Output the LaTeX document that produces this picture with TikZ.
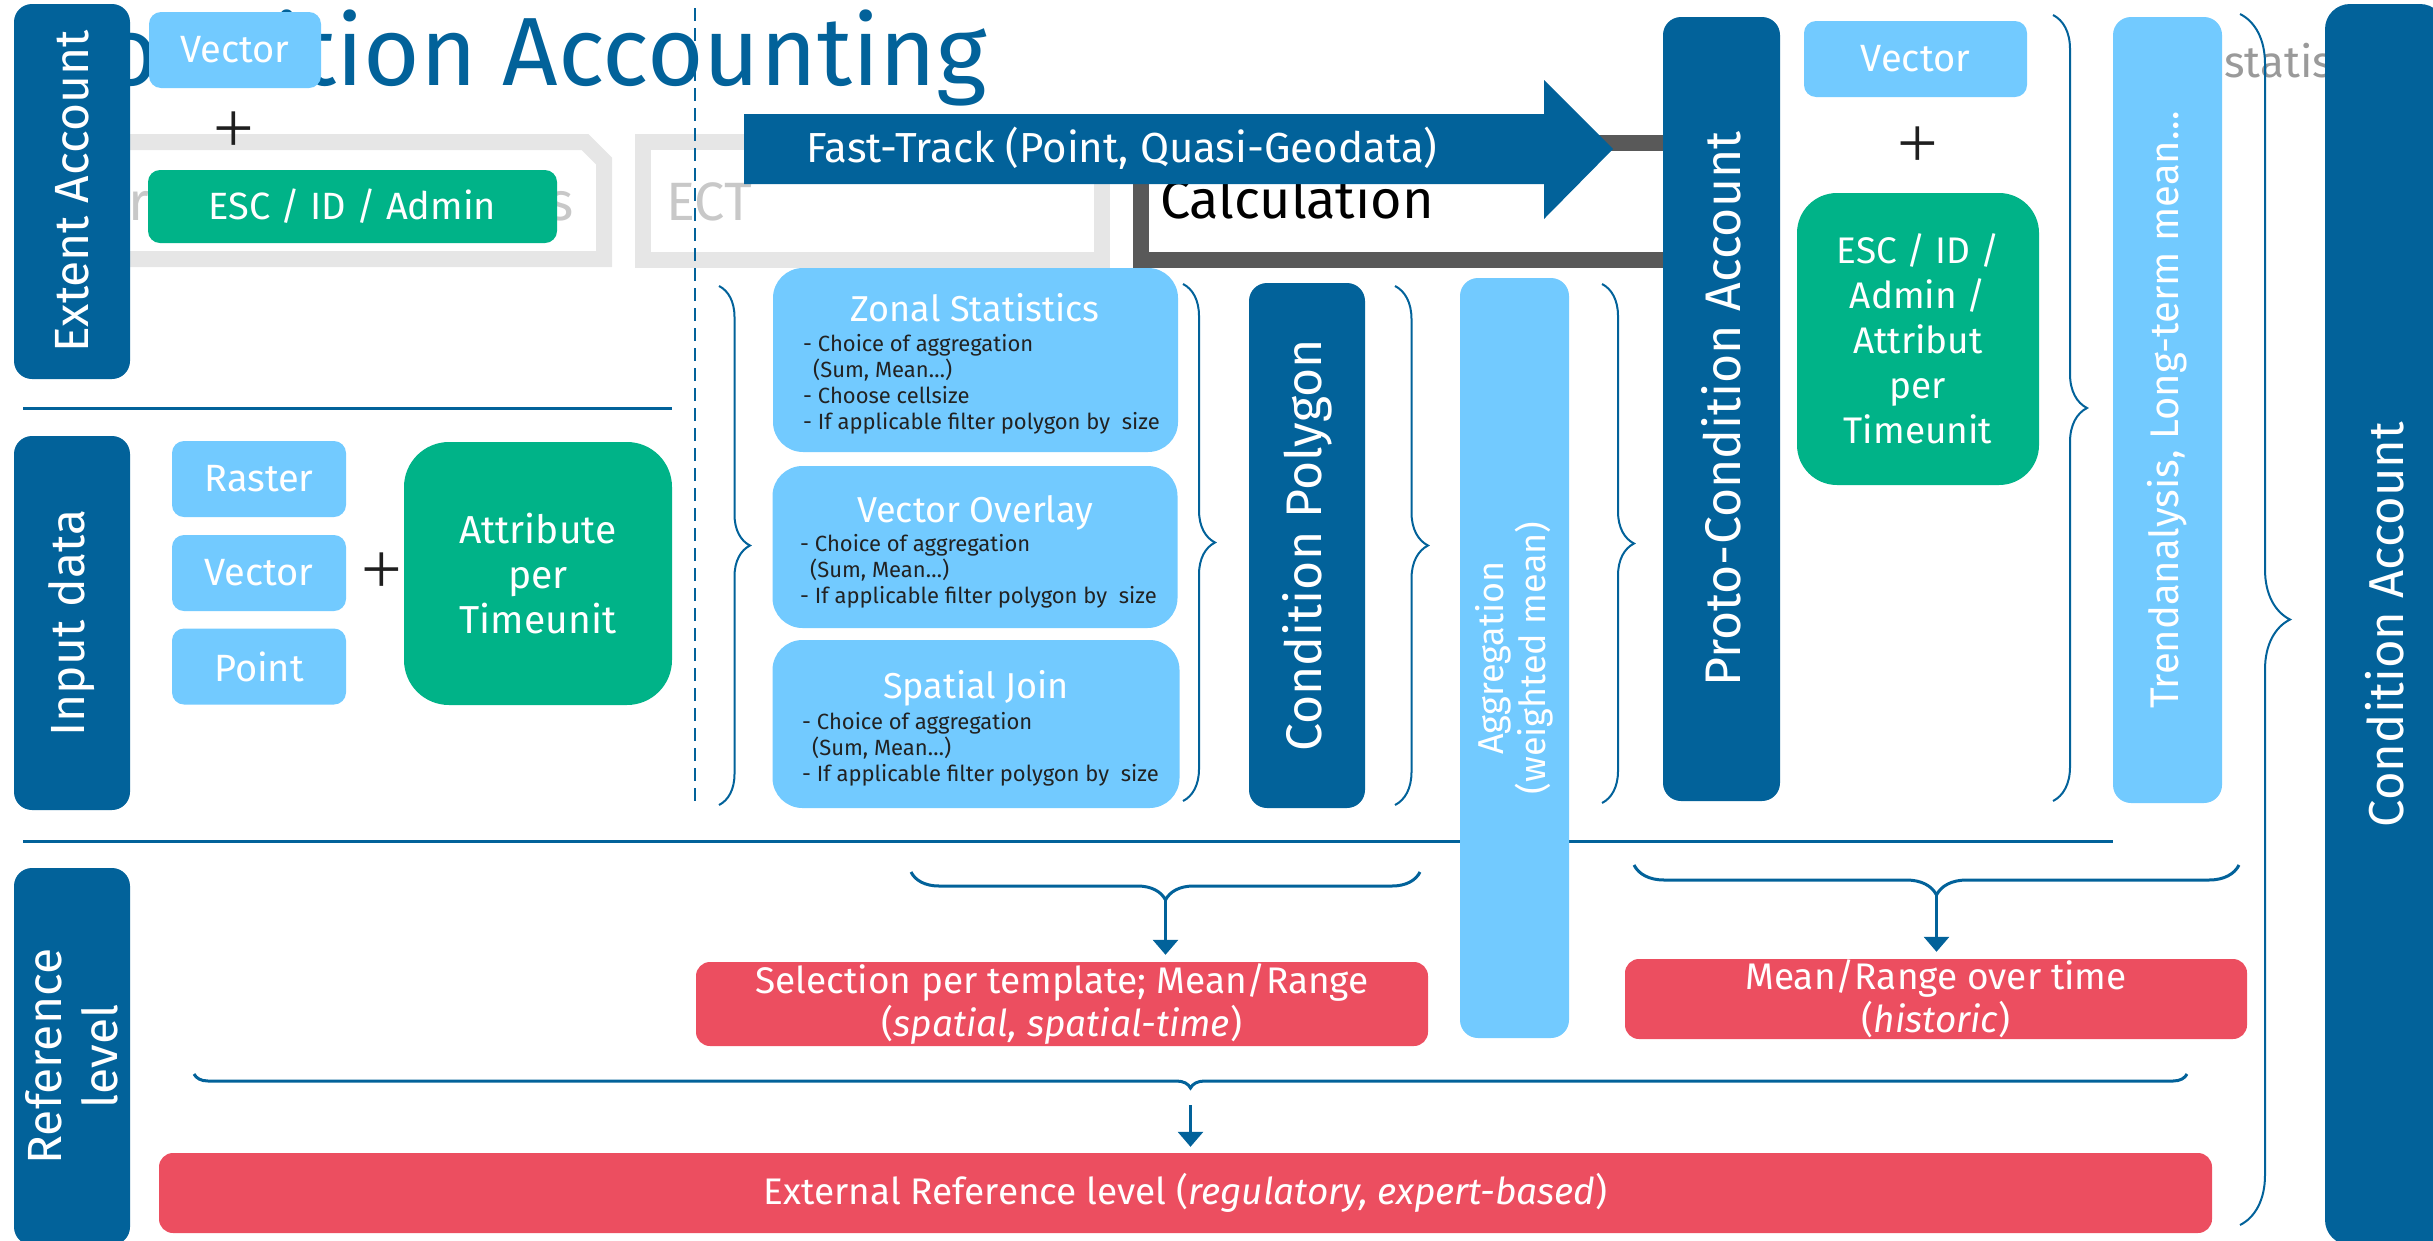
\documentclass[tikz,border=0pt]{standalone}
\usepackage{fontspec}
\setmainfont{Fira Sans}
\newfontfamily\plusfont{Liberation Serif}
\usetikzlibrary{decorations.pathreplacing,arrows.meta}
\definecolor{dkblue}{HTML}{02629A}
\definecolor{ltblue}{HTML}{72CAFF}
\definecolor{grn}{HTML}{00B388}
\definecolor{rd}{HTML}{EC4E60}
\definecolor{gbox}{HTML}{E6E6E6}
\definecolor{dgray}{HTML}{595959}
\definecolor{gtxt}{HTML}{C8C8C8}
\definecolor{gtxtb}{HTML}{9A9A9A}
\definecolor{bull}{HTML}{222222}
\newcommand\fsz[2]{\fontsize{#1}{#2}\selectfont}
\newcommand\tl[1]{\begin{tabular}[t]{@{}l@{}}#1\end{tabular}}
\tikzset{
  dkbar/.style={fill=dkblue, rounded corners=18pt, inner sep=0pt, text=white, font=\fsz{48}{56}, rotate=90},
  ltbar/.style={fill=ltblue, rounded corners=18pt, inner sep=0pt, text=white, rotate=90, align=center},
  ltbox/.style={fill=ltblue, rounded corners=12pt, inner sep=0pt, text=white, font=\fsz{38}{44}},
  grnbox/.style={fill=grn, inner sep=0pt, text=white, align=center},
  redbox/.style={fill=rd, rounded corners=14pt, inner sep=0pt, text=white, align=center, font=\fsz{37}{43}},
  methbox/.style={fill=ltblue, rounded corners=30pt, inner sep=0pt},
  methtitle/.style={text=white, font=\fsz{36}{40}, inner sep=0pt, anchor=base},
  bullets/.style={text=bull, font=\fsz{22}{26}, inner sep=0pt, anchor=base west},
  vbrace/.style={decorate, decoration={brace, amplitude=#1}, draw=dkblue, line width=2pt},
  hbrace/.style={decorate, decoration={brace, amplitude=#1}, draw=dkblue, line width=3pt},
  sepline/.style={draw=dkblue, line width=3pt},
  downarrow/.style={-{Triangle[length=15pt,width=25pt]}, draw=dkblue, line width=3pt},
  graybox/.style={draw=gbox, line width=16pt},
  plussign/.style={font=\plusfont\fsz{72}{76}, inner sep=0pt, text=black!88},
}
\begin{document}
\begin{tikzpicture}[x=1pt,y=-1pt]
\useasboundingbox (0,0) rectangle (2433,1240);
\clip (0,0) rectangle (2433,1240);

% title
\node[anchor=base east, text=dkblue, font=\fsz{97}{110}, inner sep=0pt] (title) at (987,85) {Condition Accounting};

% grey process boxes
\draw[graybox] (60,142) -- (585,142) -- (604,161) -- (604,259) -- (60,259) -- cycle;
\draw[graybox] (643,142) rectangle (1102,260);
\node[anchor=base east, text=gtxt, font=\fsz{54}{60}, inner sep=0pt] (gtext) at (574,220) {areas and polygons};
\node[anchor=base west, text=gtxt, font=\fsz{54}{60}, inner sep=0pt] (ect) at (666,220) {ECT};

% calculation box
\draw[draw=dgray, line width=16pt] (1141,143) rectangle (1720,260);
\node[anchor=base west, text=black, font=\fsz{54}{60}, inner sep=0pt] (calc) at (1160,218) {Calculation};

% fast track arrow
\fill[dkblue] (744,114) -- (1544,114) -- (1544,80) -- (1613,149) -- (1544,219) -- (1544,184) -- (744,184) -- cycle;
\node[text=white, font=\fsz{42}{48}, inner sep=0pt, anchor=base] (fast) at (1122,162) {Fast-Track (Point, Quasi-Geodata)};

% dashed divider
\draw[dkblue, line width=2pt, dash pattern=on 13pt off 7pt] (695,8) -- (695,807);

% left labels
\node[dkbar, minimum width=375pt, minimum height=116pt] (extent) at (72,191.5) {Extent Account};
\node[dkbar, minimum width=374pt, minimum height=116pt] (input) at (72,623) {Input data};
\node[dkbar, minimum width=377pt, minimum height=116pt, align=center] (reflev) at (72,1056.5) {Reference\\level};

% extent account content
\node[ltbox, minimum width=172pt, minimum height=76pt] (vec1) at (235,50) {Vector};
\node[plussign] (plus1) at (234,132.5) {+};
\node[grnbox, rounded corners=12pt, minimum width=409pt, minimum height=73pt, font=\fsz{38}{44}] (esc1) at (352.5,206.5) {ESC / ID / Admin};

\draw[sepline] (23,408) -- (672,408);

% input data content
\node[ltbox, minimum width=174pt, minimum height=76pt] (raster) at (259,479) {Raster};
\node[ltbox, minimum width=174pt, minimum height=76pt] (vec2) at (259,573) {Vector};
\node[ltbox, minimum width=174pt, minimum height=76pt] (point) at (259,666.5) {Point};
\node[plussign] (plus2) at (382,573) {+};
\node[grnbox, rounded corners=45pt, minimum width=268pt, minimum height=263pt, font=\fsz{39}{45}] (attr) at (538,573.5) {Attribute\\per\\Timeunit};

% methods
\node[methbox, minimum width=405pt, minimum height=184pt] (zonal) at (975.5,360) {};
\node[methtitle] (zonalt) at (975,321) {Zonal Statistics};
\node[bullets] (zonalb) at (803,351) {\tl{- Choice of aggregation\\\hspace*{10pt}(Sum, Mean…)\\- Choose cellsize\\- If applicable filter polygon by\ \ size}};

\node[methbox, minimum width=405pt, minimum height=162pt] (overlay) at (975,547) {};
\node[methtitle] (overlayt) at (975,522) {Vector Overlay};
\node[bullets] (overlayb) at (800,551) {\tl{- Choice of aggregation\\\hspace*{10pt}(Sum, Mean…)\\- If applicable filter polygon by\ \ size}};

\node[methbox, minimum width=407pt, minimum height=168pt] (sjoin) at (976,724) {};
\node[methtitle] (sjoint) at (976,698) {Spatial Join};
\node[bullets] (sjoinb) at (802,729) {\tl{- Choice of aggregation\\\hspace*{10pt}(Sum, Mean…)\\- If applicable filter polygon by\ \ size}};

% vertical braces
\draw[vbrace=31pt] (719,286) -- (719,805);
\draw[vbrace=32pt] (1183,284) -- (1183,801);
\draw[vbrace=33pt] (1395,286) -- (1395,805);
\draw[vbrace=32pt] (1602,284) -- (1602,803);
\draw[vbrace=34pt] (2053,15) -- (2053,801);

% condition polygon
\node[dkbar, font=\fsz{50}{56}, minimum width=525pt, minimum height=116pt] (cpoly) at (1307,545.5) {Condition Polygon};

\draw[sepline] (23,841) -- (2113,841);

% aggregation
\node[ltbar, font=\fsz{36}{42}, minimum width=760pt, minimum height=109pt] (aggr) at (1514.5,658) {Aggregation\\(weighted mean)};

% proto-condition account
\node[dkbar, font=\fsz{50}{56}, minimum width=784pt, minimum height=117pt] (proto) at (1721.5,409) {Proto-Condition Account};

\node[ltbox, minimum width=223pt, minimum height=76pt] (vec3) at (1915.5,59) {Vector};
\node[plussign] (plus3) at (1918,147) {+};
\node[grnbox, rounded corners=40pt, minimum width=242pt, minimum height=292pt, font=\fsz{37}{45}] (esc2) at (1918,339) {ESC / ID /\\Admin /\\Attribut\\per\\Timeunit};

% trend
\node[ltbar, font=\fsz{40}{46}, minimum width=786pt, minimum height=109pt] (trend) at (2167.5,410) {Trendanalysis, Long-term mean…};

\node[anchor=base west, text=gtxtb, font=\fsz{44}{50}, inner sep=0pt] (statis) at (2224,77) {statis};
\draw[vbrace=50pt] (2240,14) -- (2240,1225);

% condition account
\node[dkbar, font=\fsz{49}{56}, rounded corners=25pt, minimum width=1241pt, minimum height=120pt] (condacc) at (2385,624.5) {Condition Account};

% reference level braces and arrows
\draw[hbrace=28pt] (1420,872) -- (911,872);
\coordinate (tipa) at (1165.5,900);
\draw[hbrace=30pt] (2239,865) -- (1634,865);
\coordinate (tipb) at (1936.5,895);
\draw[hbrace=14pt] (2187,1074) -- (194,1074);
\coordinate (tipc) at (1190.5,1088);

\node[redbox, minimum width=732pt, minimum height=84pt] (sel) at (1062,1004) {Selection per template; Mean/Range\\(\textit{spatial, spatial-time})};
\node[redbox, minimum width=622pt, minimum height=80pt] (meanr) at (1936,999) {Mean/Range over time\\(\textit{historic})};
\node[redbox, minimum width=2053pt, minimum height=80pt] (ext) at (1185.5,1193) {External Reference level (\textit{regulatory, expert-based})};

\draw[downarrow, shorten >=7pt] (tipa) -- (tipa |- sel.north);
\draw[downarrow, shorten >=7pt] (tipb) -- (tipb |- meanr.north);
\draw[downarrow, shorten <=17pt, shorten >=6pt] (tipc) -- (tipc |- ext.north);
\end{tikzpicture}
\end{document}
